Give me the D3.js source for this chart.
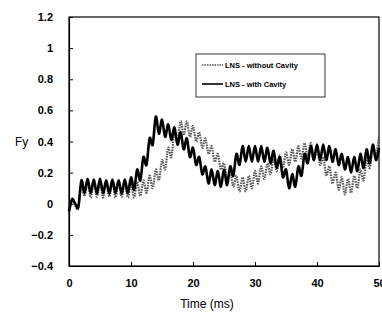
<!DOCTYPE html>
<html><head><meta charset="utf-8">
<script src="https://cdn.jsdelivr.net/npm/d3@7"></script>
<style>body{margin:0;background:#fff}svg{display:block}text{font-family:"Liberation Sans",Arial,sans-serif}</style>
</head><body>
<svg id="c" width="382" height="320"></svg>
<script>
const times = [0,0.5,1,1.5,2,2.5,3,3.5,4,4.5,5,5.5,6,6.5,7,7.5,8,8.5,9,9.5,10,10.5,11,11.5,12,12.5,13,13.5,14,14.5,15,15.5,16,16.5,17,17.5,18,18.5,19,19.5,20,20.5,21,21.5,22,22.5,23,23.5,24,24.5,25,25.5,26,26.5,27,27.5,28,28.5,29,29.5,30,30.5,31,31.5,32,32.5,33,33.5,34,34.5,35,35.5,36,36.5,37,37.5,38,38.5,39,39.5,40,40.5,41,41.5,42,42.5,43,43.5,44,44.5,45,45.5,46,46.5,47,47.5,48,48.5,49,49.5,50];
const withCavity = [-0.05,0.03,0.0,-0.02,0.15,0.07,0.16,0.07,0.155,0.065,0.16,0.07,0.15,0.065,0.155,0.07,0.15,0.065,0.155,0.07,0.17,0.09,0.22,0.15,0.30,0.25,0.42,0.38,0.56,0.45,0.54,0.43,0.51,0.41,0.49,0.38,0.46,0.35,0.42,0.30,0.36,0.25,0.30,0.19,0.24,0.13,0.22,0.12,0.21,0.11,0.22,0.12,0.24,0.18,0.32,0.25,0.37,0.27,0.37,0.27,0.37,0.27,0.37,0.27,0.36,0.26,0.34,0.23,0.30,0.17,0.22,0.10,0.19,0.11,0.24,0.18,0.32,0.26,0.37,0.28,0.38,0.28,0.38,0.28,0.37,0.27,0.35,0.25,0.32,0.22,0.30,0.20,0.30,0.21,0.32,0.23,0.35,0.26,0.38,0.28,0.36];
const withoutCavity = [-0.05,0.02,-0.01,-0.03,0.13,0.05,0.14,0.04,0.14,0.045,0.135,0.04,0.14,0.045,0.135,0.04,0.14,0.045,0.135,0.04,0.13,0.04,0.14,0.05,0.15,0.07,0.18,0.10,0.22,0.15,0.28,0.22,0.36,0.30,0.46,0.40,0.53,0.44,0.53,0.43,0.50,0.40,0.46,0.36,0.42,0.32,0.37,0.27,0.32,0.22,0.26,0.16,0.21,0.11,0.18,0.08,0.17,0.08,0.18,0.10,0.21,0.13,0.24,0.16,0.26,0.19,0.29,0.21,0.31,0.23,0.33,0.25,0.35,0.27,0.37,0.29,0.39,0.30,0.39,0.29,0.36,0.25,0.30,0.18,0.24,0.13,0.20,0.09,0.17,0.06,0.16,0.07,0.18,0.10,0.22,0.15,0.29,0.23,0.37,0.32,0.43];
const xTicks = [0,10,20,30,40,50];
const yTicks = [-0.4,-0.2,0,0.2,0.4,0.6,0.8,1,1.2];
const legendLabels = ["LNS - without Cavity","LNS - with Cavity"];

const svg = d3.select("#c");
const L=69,R=379,T=17,B=266;
const x = d3.scaleLinear().domain([0,50]).range([L,R]);
const y = d3.scaleLinear().domain([-0.4,1.2]).range([B,T]);

svg.append("rect").attr("x",L).attr("y",T).attr("width",R-L).attr("height",B-T)
  .attr("fill","none").attr("stroke","#000").attr("stroke-width",1.2);

const xa = svg.append("g").attr("transform",`translate(0,${B})`)
  .call(d3.axisBottom(x).tickValues(xTicks).tickSizeInner(-4).tickSizeOuter(0).tickPadding(13).tickFormat(d3.format("d")));
const ya = svg.append("g").attr("transform",`translate(${L},0)`)
  .call(d3.axisLeft(y).tickValues(yTicks).tickSizeInner(-4).tickSizeOuter(0).tickPadding(16).tickFormat(d=>d3.format("")(+d.toFixed(1))));
[xa,ya].forEach(g=>{
  g.select(".domain").attr("stroke","#000").attr("stroke-width",1.2);
  g.selectAll("line").attr("stroke","#000");
  g.selectAll("text").attr("font-size",11).attr("font-weight","bold").attr("fill","#000")
   .attr("font-family","'Liberation Sans',Arial,sans-serif");
});

const line = d3.line().x((d,i)=>x(times[i])).y(d=>y(d)).curve(d3.curveCardinal);
svg.append("path").datum(withoutCavity).attr("d",line).attr("fill","none")
  .attr("stroke","#555").attr("stroke-width",2.2).attr("stroke-dasharray","1.5,1");
svg.append("path").datum(withCavity).attr("d",line).attr("fill","none")
  .attr("stroke","#000").attr("stroke-width",2.6);

svg.append("text").attr("x",15).attr("y",146).attr("font-size",12).text("Fy");
svg.append("text").attr("x",207).attr("y",308).attr("text-anchor","middle").attr("font-size",12).text("Time (ms)");

const lg = svg.append("g");
lg.append("rect").attr("x",196).attr("y",54).attr("width",129).attr("height",43)
  .attr("fill","#fff").attr("stroke","#000").attr("stroke-width",0.8);
const styles=[{c:"#555",w:1.4,da:"1.5,1"},{c:"#000",w:1.6,da:null}];
legendLabels.forEach((t,i)=>{
  const yy = 65 + i*19;
  lg.append("line").attr("x1",202).attr("x2",223).attr("y1",yy).attr("y2",yy)
    .attr("stroke",styles[i].c).attr("stroke-width",styles[i].w).attr("stroke-dasharray",styles[i].da);
  lg.append("text").attr("x",225).attr("y",yy+2.5).attr("font-size",7.5).attr("font-weight","bold").text(t);
});
</script>
</body></html>
